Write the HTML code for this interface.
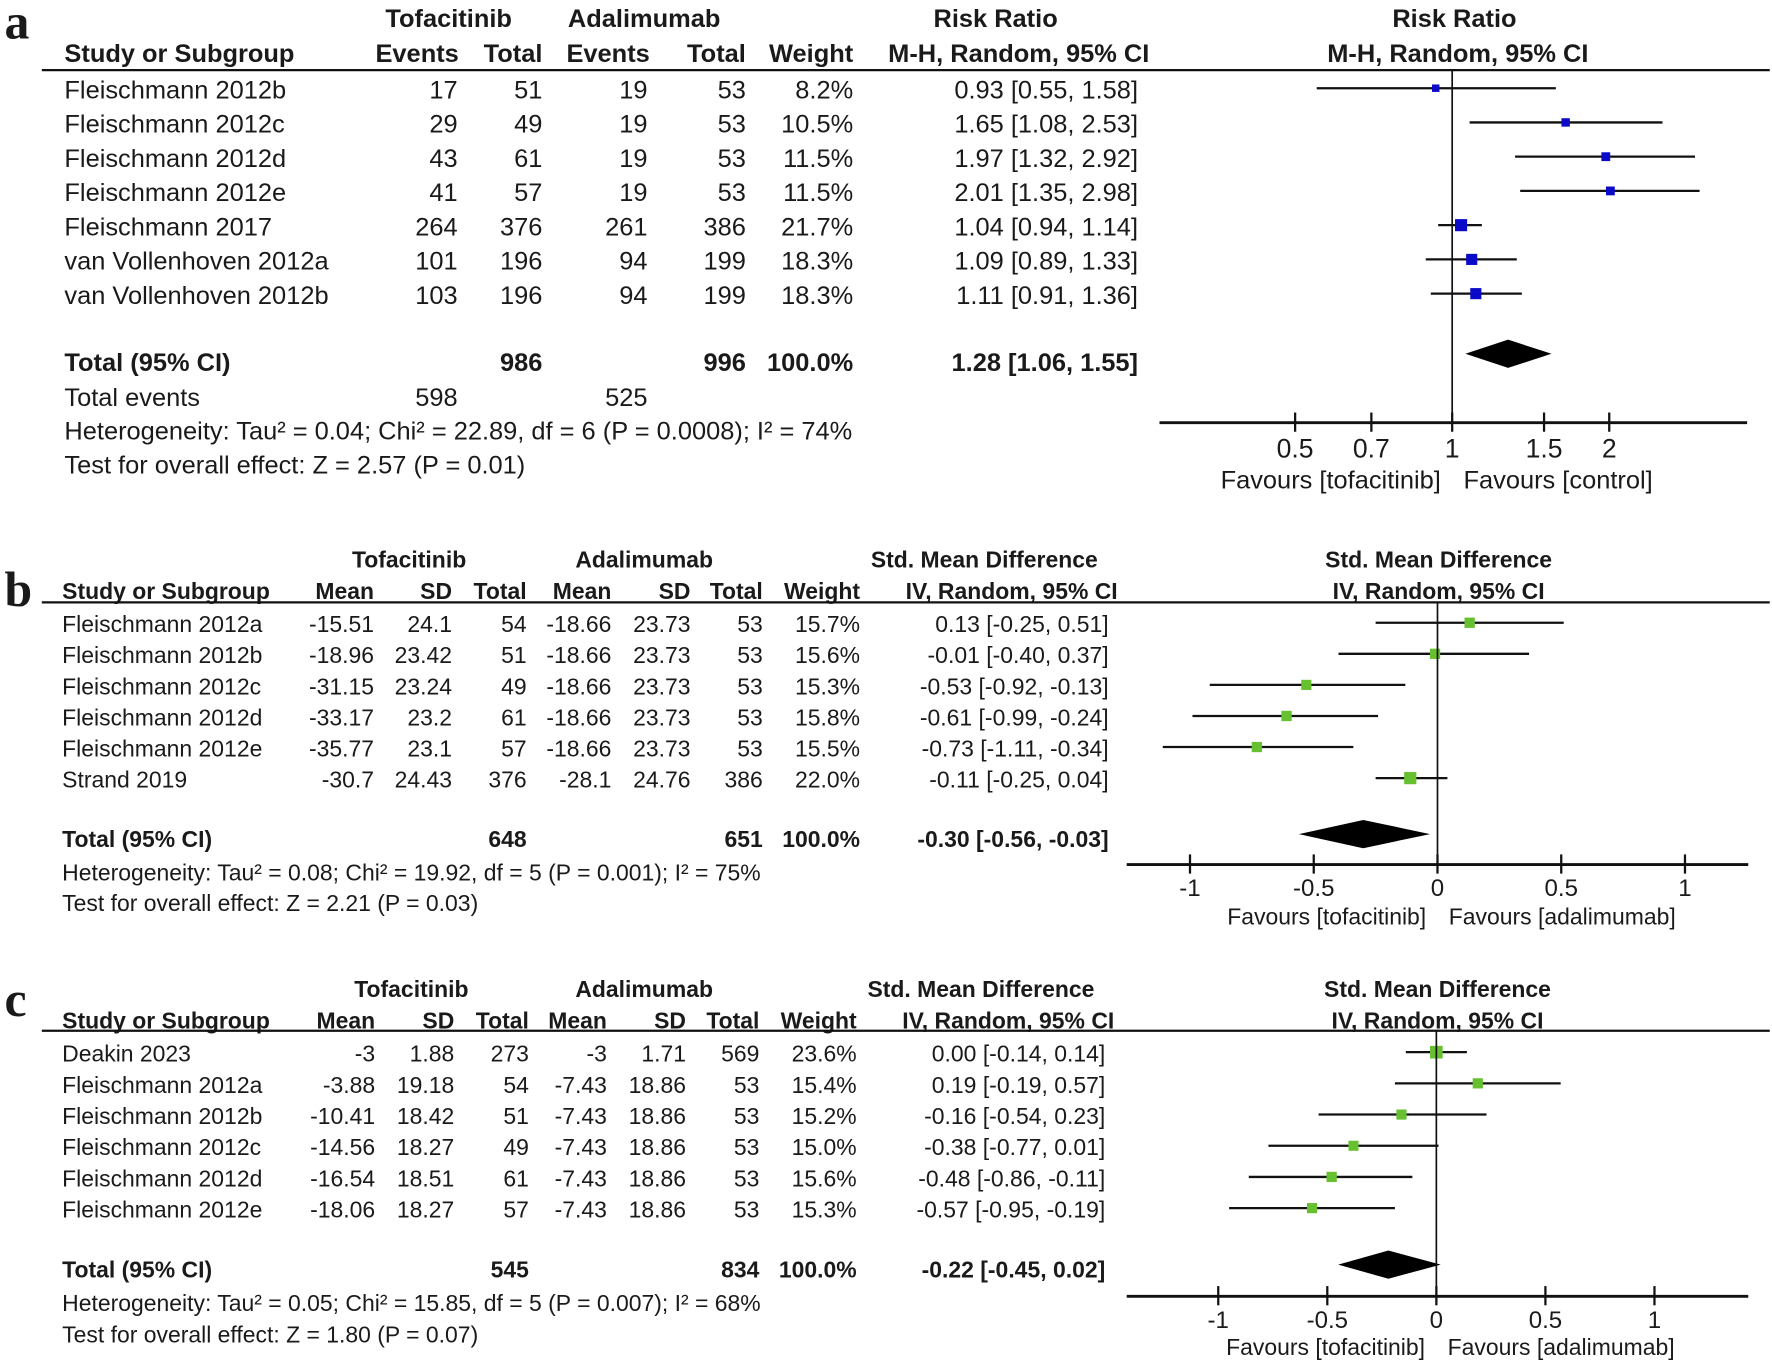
<!DOCTYPE html>
<html><head><meta charset="utf-8"><style>
html,body{margin:0;padding:0;background:#fff;}
svg{display:block;}
text{font-family:"Liberation Sans",Arial,sans-serif;fill:#1a1a1a;}
</style></head><body>
<svg id="fig" width="1772" height="1363" viewBox="0 0 1568 1206" xmlns="http://www.w3.org/2000/svg"></svg>
<script>
// ---------- Panel A data ----------
const aStudies = ["Fleischmann 2012b","Fleischmann 2012c","Fleischmann 2012d","Fleischmann 2012e","Fleischmann 2017","van Vollenhoven 2012a","van Vollenhoven 2012b"];
const aTofEvents = ["17","29","43","41","264","101","103"];
const aTofTotal = ["51","49","61","57","376","196","196"];
const aAdaEvents = ["19","19","19","19","261","94","94"];
const aAdaTotal = ["53","53","53","53","386","199","199"];
const aWeight = [8.2,10.5,11.5,11.5,21.7,18.3,18.3];
const aEst = [0.93,1.65,1.97,2.01,1.04,1.09,1.11];
const aLo = [0.55,1.08,1.32,1.35,0.94,0.89,0.91];
const aHi = [1.58,2.53,2.92,2.98,1.14,1.33,1.36];
const aTotal = [1.28,1.06,1.55];
const aTicks = [0.5,0.7,1,1.5,2];
const aTickLabels = ["0.5","0.7","1","1.5","2"];
// ---------- Panel B data ----------
const bStudies = ["Fleischmann 2012a","Fleischmann 2012b","Fleischmann 2012c","Fleischmann 2012d","Fleischmann 2012e","Strand 2019"];
const bTofMean = ["-15.51","-18.96","-31.15","-33.17","-35.77","-30.7"];
const bTofSD = ["24.1","23.42","23.24","23.2","23.1","24.43"];
const bTofTotal = ["54","51","49","61","57","376"];
const bAdaMean = ["-18.66","-18.66","-18.66","-18.66","-18.66","-28.1"];
const bAdaSD = ["23.73","23.73","23.73","23.73","23.73","24.76"];
const bAdaTotal = ["53","53","53","53","53","386"];
const bWeight = [15.7,15.6,15.3,15.8,15.5,22.0];
const bEst = [0.13,-0.01,-0.53,-0.61,-0.73,-0.11];
const bLo = [-0.25,-0.40,-0.92,-0.99,-1.11,-0.25];
const bHi = [0.51,0.37,-0.13,-0.24,-0.34,0.04];
const bTotal = [-0.30,-0.56,-0.03];
const smdTicks = [-1,-0.5,0,0.5,1];
const smdTickLabels = ["-1","-0.5","0","0.5","1"];
// ---------- Panel C data ----------
const cStudies = ["Deakin 2023","Fleischmann 2012a","Fleischmann 2012b","Fleischmann 2012c","Fleischmann 2012d","Fleischmann 2012e"];
const cTofMean = ["-3","-3.88","-10.41","-14.56","-16.54","-18.06"];
const cTofSD = ["1.88","19.18","18.42","18.27","18.51","18.27"];
const cTofTotal = ["273","54","51","49","61","57"];
const cAdaMean = ["-3","-7.43","-7.43","-7.43","-7.43","-7.43"];
const cAdaSD = ["1.71","18.86","18.86","18.86","18.86","18.86"];
const cAdaTotal = ["569","53","53","53","53","53"];
const cWeight = [23.6,15.4,15.2,15.0,15.6,15.3];
const cEst = [0.00,0.19,-0.16,-0.38,-0.48,-0.57];
const cLo = [-0.14,-0.19,-0.54,-0.77,-0.86,-0.95];
const cHi = [0.14,0.57,0.23,0.01,-0.11,-0.19];
const cTotal = [-0.22,-0.45,0.02];

const NS="http://www.w3.org/2000/svg";
const svg=document.getElementById('fig');
function el(tag,attrs,parent){const e=document.createElementNS(NS,tag);for(const k in attrs)e.setAttribute(k,attrs[k]);(parent||svg).appendChild(e);return e;}
function txt(x,y,s,size,anchor,bold,name,parent){
  const t=el('text',{x:x,y:y,'font-size':size,'text-anchor':anchor||'start','font-weight':bold?'bold':'normal'},parent);
  t.textContent=s;
  
  
  return t;
}
function line(x1,y1,x2,y2,w,name,parent){
  const l=el('line',{x1:x1,y1:y1,x2:x2,y2:y2,stroke:'#111','stroke-width':w||1.5},parent);
  
  
  return l;
}
const fmt=v=>v.toFixed(2);

function panel(cfg){
  const g=el('g',{});
  
  
  const fs=cfg.fs;
  const letter=el('text',{x:cfg.letterX,y:cfg.letterY,'font-size':44,'font-weight':'bold',style:'font-family:"Liberation Serif",serif'},g);
  letter.textContent=cfg.letter;
  
  
  cfg.head1.forEach(h=>txt(h[0],cfg.h1y,h[1],fs,'middle',true,'group-header',g));
  txt(cfg.studyX,cfg.h2y,'Study or Subgroup',fs,'start',true,'study-column-header',g);
  cfg.head2.forEach(h=>txt(h[0],cfg.h2y,h[1],fs,'end',true,'column-header',g));
  txt(cfg.axCenter,cfg.h2y,cfg.ciHead,fs,'middle',true,'plot-column-header',g);
  line(37,cfg.lineY,1566,cfg.lineY,2,'header-rule',g);
  const X=cfg.xs;
  cfg.studies.forEach((s,i)=>{
    const y=cfg.rowY0+i*cfg.rowDy;
    txt(cfg.studyX,y+fs*0.36,s,fs,'start',false,'study-name',g);
    cfg.cols.forEach((c,j)=>txt(cfg.colX[j],y+fs*0.36,c[i],fs,'end',false,'cell-value',g));
    txt(cfg.colX[cfg.cols.length],y+fs*0.36,cfg.weight[i].toFixed(1)+'%',fs,'end',false,'weight-value',g);
    txt(cfg.ciX,y+fs*0.36,fmt(cfg.est[i])+' ['+fmt(cfg.lo[i])+', '+fmt(cfg.hi[i])+']',fs,'end',false,'ci-value',g);
    line(X(cfg.lo[i]),y-1,X(cfg.hi[i]),y-1,2,'ci-whisker',g);
    const sz=2.3*Math.sqrt(cfg.weight[i]);
    const r=el('rect',{x:X(cfg.est[i])-sz/2,y:y-1-sz/2,width:sz,height:sz,fill:cfg.color},g);
    
    
  });
  const ty=cfg.totalY;
  txt(cfg.studyX,ty+fs*0.36,'Total (95% CI)',fs,'start',true,'total-label',g);
  txt(cfg.colX[cfg.totColA],ty+fs*0.36,cfg.totN[0],fs,'end',true,'total-n',g);
  txt(cfg.colX[cfg.totColB],ty+fs*0.36,cfg.totN[1],fs,'end',true,'total-n',g);
  txt(cfg.colX[cfg.cols.length],ty+fs*0.36,'100.0%',fs,'end',true,'total-weight',g);
  txt(cfg.ciX,ty+fs*0.36,fmt(cfg.total[0])+' ['+fmt(cfg.total[1])+', '+fmt(cfg.total[2])+']',fs,'end',true,'total-ci',g);
  const dy=ty-cfg.diamondOff, dh=12.5;
  const d=el('polygon',{points:`${X(cfg.total[1])},${dy} ${X(cfg.total[0])},${dy-dh} ${X(cfg.total[2])},${dy} ${X(cfg.total[0])},${dy+dh}`,fill:'#000'},g);
  
  
  cfg.extra.forEach(e=>txt(cfg.studyX,e[0],e[1],fs,'start',false,'summary-text',g));
  line(X(cfg.nullV),cfg.lineY,X(cfg.nullV),cfg.axisY,1.5,'null-line',g);
  line(cfg.axL,cfg.axisY,cfg.axR,cfg.axisY,2.5,'x-axis',g);
  cfg.ticks.forEach((t,i)=>{
    line(X(t),cfg.axisY-9,X(t),cfg.axisY+8,2,'x-tick',g);
    txt(X(t),cfg.axisY+cfg.tickOff,cfg.tickLabels[i],fs+1,'middle',false,'x-tick-label',g);
  });
  txt(X(cfg.nullV)-10,cfg.axisY+cfg.favOff,cfg.favL,fs,'end',false,'favours-left-label',g);
  txt(X(cfg.nullV)+10,cfg.axisY+cfg.favOff,cfg.favR,fs,'start',false,'favours-right-label',g);
}

panel({name:'panel-a',letter:'a',letterX:4,letterY:34,fs:22.5,
  head1:[[397,'Tofacitinib'],[570,'Adalimumab'],[881,'Risk Ratio'],[1287,'Risk Ratio']],h1y:24,h2y:55,
  head2:[[406,'Events'],[480,'Total'],[575,'Events'],[660,'Total'],[755,'Weight'],[1017,'M-H, Random, 95% CI']],
  ciHead:'M-H, Random, 95% CI',axCenter:1290,studyX:57,lineY:62,
  xs:v=>1285+200.5*Math.log(v),nullV:1,
  studies:aStudies,cols:[aTofEvents,aTofTotal,aAdaEvents,aAdaTotal],colX:[405,480,573,660,755],ciX:1007,
  weight:aWeight,est:aEst,lo:aLo,hi:aHi,rowY0:79,rowDy:30.3,color:'#0a0ac8',
  totalY:320,totN:['986','996'],totColA:1,totColB:3,total:aTotal,diamondOff:7,
  extra:[[359,'Total events'],[389,'Heterogeneity: Tau² = 0.04; Chi² = 22.89, df = 6 (P = 0.0008); I² = 74%'],[419,'Test for overall effect: Z = 2.57 (P = 0.01)']],
  axL:1026,axR:1546,axisY:374,ticks:aTicks,tickLabels:aTickLabels,tickOff:31,favOff:58,
  favL:'Favours [tofacitinib]',favR:'Favours [control]'});
txt(405,359,'598',22.5,'end',false,'total-events-tofacitinib');
txt(573,359,'525',22.5,'end',false,'total-events-adalimumab');

panel({name:'panel-b',letter:'b',letterX:4,letterY:536,fs:20.3,
  head1:[[362,'Tofacitinib'],[570,'Adalimumab'],[871,'Std. Mean Difference'],[1273,'Std. Mean Difference']],h1y:502,h2y:530,
  head2:[[331,'Mean'],[400,'SD'],[466,'Total'],[541,'Mean'],[611,'SD'],[675,'Total'],[761,'Weight'],[989,'IV, Random, 95% CI']],
  ciHead:'IV, Random, 95% CI',axCenter:1273,studyX:55,lineY:533,
  xs:v=>1272+219*v,nullV:0,
  studies:bStudies,cols:[bTofMean,bTofSD,bTofTotal,bAdaMean,bAdaSD,bAdaTotal],colX:[331,400,466,541,611,675,761],ciX:981,
  weight:bWeight,est:bEst,lo:bLo,hi:bHi,rowY0:552,rowDy:27.5,color:'#66c030',
  totalY:742,totN:['648','651'],totColA:2,totColB:5,total:bTotal,diamondOff:4,
  extra:[[779,'Heterogeneity: Tau² = 0.08; Chi² = 19.92, df = 5 (P = 0.001); I² = 75%'],[806,'Test for overall effect: Z = 2.21 (P = 0.03)']],
  axL:997,axR:1547,axisY:765,ticks:smdTicks,tickLabels:smdTickLabels,tickOff:28,favOff:53,
  favL:'Favours [tofacitinib]',favR:'Favours [adalimumab]'});

panel({name:'panel-c',letter:'c',letterX:4,letterY:899,fs:20.3,
  head1:[[364,'Tofacitinib'],[570,'Adalimumab'],[868,'Std. Mean Difference'],[1272,'Std. Mean Difference']],h1y:882,h2y:910,
  head2:[[332,'Mean'],[402,'SD'],[468,'Total'],[537,'Mean'],[607,'SD'],[672,'Total'],[758,'Weight'],[986,'IV, Random, 95% CI']],
  ciHead:'IV, Random, 95% CI',axCenter:1272,studyX:55,lineY:912,
  xs:v=>1271+193*v,nullV:0,
  studies:cStudies,cols:[cTofMean,cTofSD,cTofTotal,cAdaMean,cAdaSD,cAdaTotal],colX:[332,402,468,537,607,672,758],ciX:978,
  weight:cWeight,est:cEst,lo:cLo,hi:cHi,rowY0:932,rowDy:27.6,color:'#66c030',
  totalY:1123,totN:['545','834'],totColA:2,totColB:5,total:cTotal,diamondOff:4,
  extra:[[1160,'Heterogeneity: Tau² = 0.05; Chi² = 15.85, df = 5 (P = 0.007); I² = 68%'],[1188,'Test for overall effect: Z = 1.80 (P = 0.07)']],
  axL:997,axR:1547,axisY:1147,ticks:smdTicks,tickLabels:smdTickLabels,tickOff:28,favOff:52,
  favL:'Favours [tofacitinib]',favR:'Favours [adalimumab]'});
</script>
</body></html>
